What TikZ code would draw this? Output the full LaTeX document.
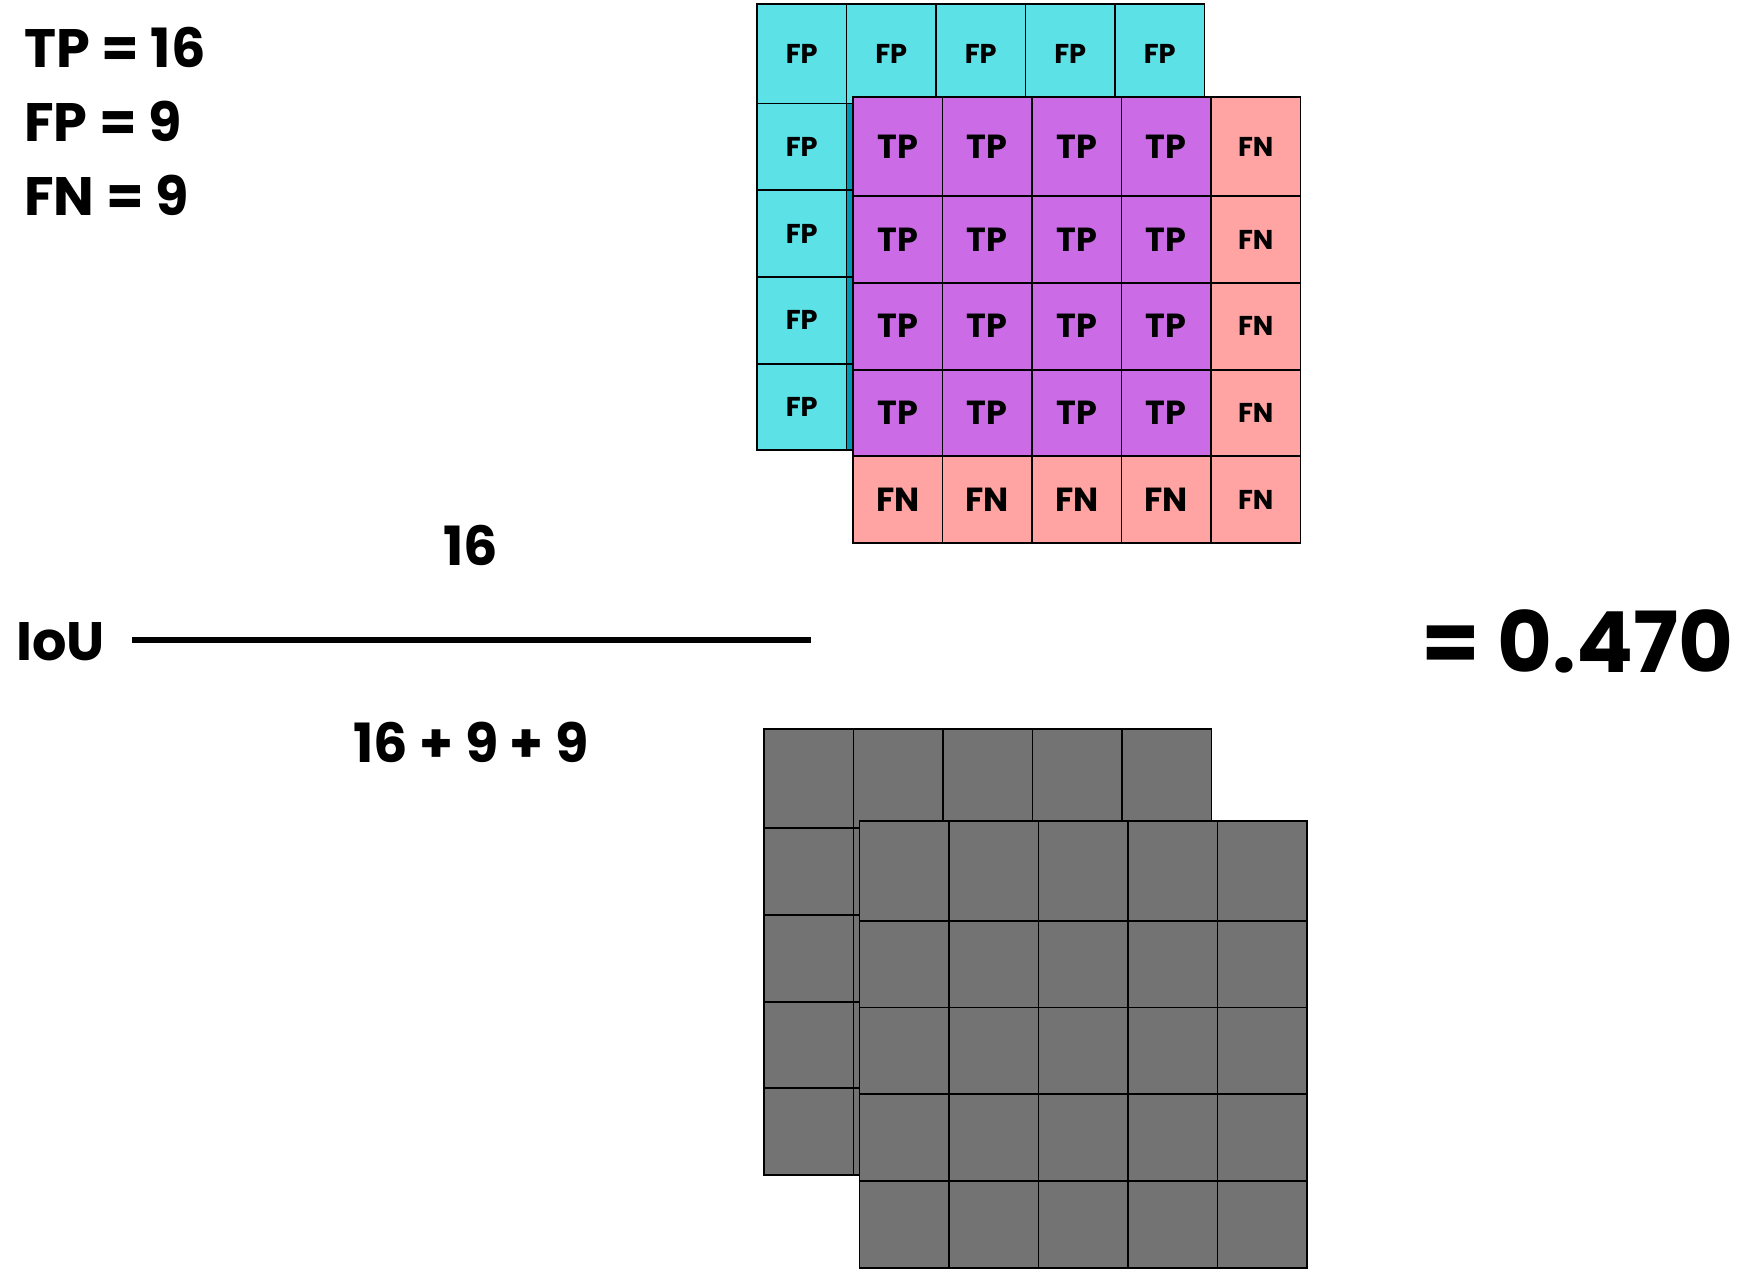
\documentclass[tikz,border=0pt]{standalone}
\usepackage{fontspec}
\setmainfont{Poppins}
\usepackage{xcolor}
\definecolor{fpcyan}{HTML}{5CE1E6}
\definecolor{fpteal}{HTML}{0097B2}
\definecolor{tppurple}{HTML}{CB6CE6}
\definecolor{fnpink}{HTML}{FFA3A3}
\definecolor{boxgray}{HTML}{737373}
\newcommand{\fsz}[1]{\fontsize{#1}{#1}\selectfont\bfseries}
% row bounds of a 5x5 block (first row is taller)
\newcommand{\rowbounds}{0/99.5,99.5/186.2,186.2/272.9,272.9/359.6,359.6/446.3}

\tikzset{
  cell/.style={draw=black, line width=1.1pt},
  lbl/.style={inner sep=0pt, font=\fsz{15.5}},
  biglbl/.style={inner sep=0pt, font=\fsz{19}},
  eqtext/.style={inner sep=0pt, font=\fsz{30.8}},
}

\begin{document}
\begin{tikzpicture}[x=0.02cm, y=-0.02cm]
\useasboundingbox (0,0) rectangle (1760,1269);

% counts
\node[eqtext, anchor=base west] (tpcount) at (24,67) {TP = 16};
\node[eqtext, anchor=base west] (fpcount) at (24,141) {FP = 9};
\node[eqtext, anchor=base west] (fncount) at (24,215) {FN = 9};

% IoU fraction
\node[eqtext, anchor=base west] (iou) at (16,660) {IoU};
\coordinate (barL) at (132,640);
\coordinate (barR) at (811,640);
\draw[line width=3.4pt] (barL) -- (barR);
\node[eqtext, anchor=base] (numer) at (471,565) {16};
\node[eqtext, anchor=base] (denom) at (471,762) {16 + 9 + 9};
\node[inner sep=0pt, font=\fsz{48}, anchor=base east] (result) at (1734,672) {= 0.470};

% back grid (FP)
\foreach \c in {0,...,4} {
  \draw[cell, fill=fpcyan] ({757+89.5*\c},4) rectangle ({846.5+89.5*\c},103.5);
  \node[lbl] (fp-top-\c) at ({801.75+89.5*\c},53.75) {FP};
}
\foreach \ya/\yb [count=\r] in {103.5/190.2,190.2/276.9,276.9/363.6,363.6/450.3} {
  \draw[cell, fill=fpteal] (846.5,\ya) rectangle (936,\yb);
  \draw[cell, fill=fpcyan] (757,\ya) rectangle (846.5,\yb);
  \node[lbl] (fp-left-\r) at (801.75,{(\ya+\yb)/2}) {FP};
}

% front grid (TP / FN)
\begin{scope}[shift={(853,96.7)}]
\foreach \ya/\yb [count=\r] in \rowbounds {
  \foreach \c in {0,...,4} {
    \ifnum\r=5 \def\cellfill{fnpink}\else\ifnum\c=4 \def\cellfill{fnpink}\else\def\cellfill{tppurple}\fi\fi
    \draw[cell, fill=\cellfill] ({89.5*\c},\ya) rectangle ({89.5*(\c+1)},\yb);
  }
  \ifnum\r<5
    \foreach \c in {0,...,3} \node[biglbl] (tp-\r-\c) at ({44.75+89.5*\c},{(\ya+\yb)/2}) {TP};
  \else
    \foreach \c in {0,...,3} \node[biglbl] (fn-bot-\c) at ({44.75+89.5*\c},{(\ya+\yb)/2}) {FN};
  \fi
  \node[lbl] (fn-right-\r) at (402.75,{(\ya+\yb)/2}) {FN};
}
\end{scope}

% gray grids
\begin{scope}[shift={(764,728.7)}]
\foreach \ya/\yb in \rowbounds
  \foreach \c in {0,...,4} \draw[cell, fill=boxgray] ({89.5*\c},\ya) rectangle ({89.5*(\c+1)},\yb);
\end{scope}
\begin{scope}[shift={(859.5,821.3)}]
\foreach \ya/\yb in \rowbounds
  \foreach \c in {0,...,4} \draw[cell, fill=boxgray] ({89.5*\c},\ya) rectangle ({89.5*(\c+1)},\yb);
\end{scope}

\end{tikzpicture}
\end{document}
